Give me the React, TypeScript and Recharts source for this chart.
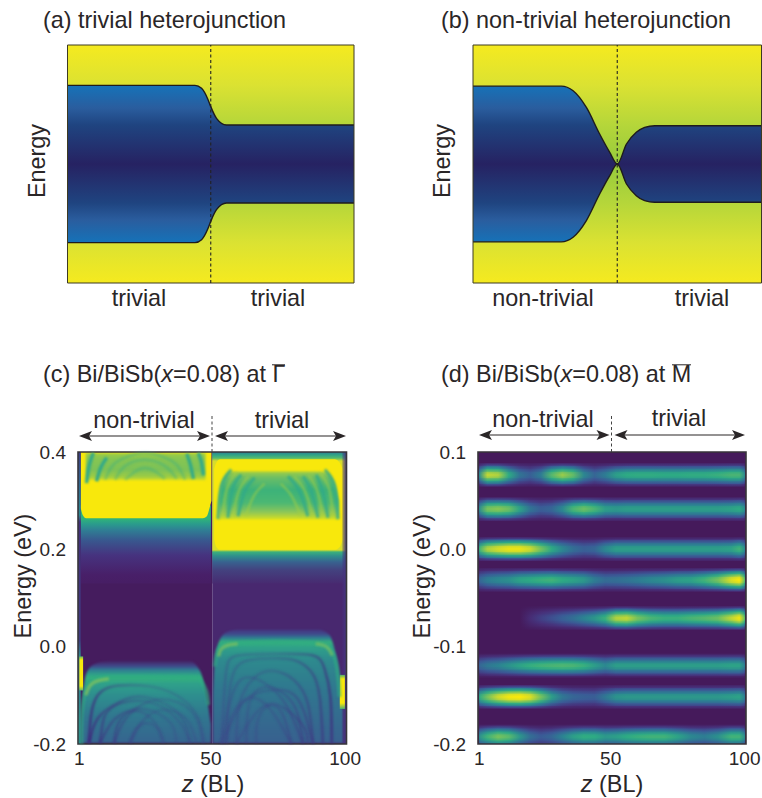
import { Area, ComposedChart, Line, ReferenceArea, ReferenceLine, XAxis, YAxis } from "recharts";

const INK = "#2a2627";
const FONT = '"Liberation Sans", Arial, sans-serif';

// panel (a), (b): gap edge as [z, upper], lower edge is its mirror
const EDGE_A = [[0, 0.661], [44.5, 0.661], [46.8, 0.636], [49.1, 0.538], [50, 0.482], [52, 0.384], [55.5, 0.328], [100, 0.328]];
const EDGE_B_LEFT = [[0, 0.654], [30.6, 0.654], [34.7, 0.615], [39.3, 0.475], [43.9, 0.252], [47.4, 0.098], [50, 0]];
const EDGE_B_RIGHT = [[50, 0], [53.2, 0.168], [56.6, 0.266], [59.5, 0.308], [63, 0.322], [100, 0.322]];

// panel (c): regions as [z, low, high] in eV
const C_LEFT_BG = [[0.5, -0.2, 0.4], [50.5, -0.2, 0.4]];
const C_RIGHT_BG = [[50.5, -0.2, 0.4], [100.5, -0.2, 0.4]];
const C_LEFT_HALO = [[1.5, 0.13, 0.29], [50, 0.13, 0.29]];
const C_LEFT_YELLOW = [[1.5, 0.285, 0.4], [2.3, 0.27, 0.4], [3.5, 0.264, 0.4], [47, 0.264, 0.4], [48.5, 0.268, 0.4], [49.5, 0.285, 0.4], [50.2, 0.3, 0.4]];
const C_LEFT_MOUND = [[3.4, 0.342, 0.398], [48, 0.342, 0.398]];
const C_LEFT_FLOOR = [[1.5, -0.198, -0.17], [2.5, -0.198, -0.09], [4, -0.198, -0.05], [7, -0.198, -0.035], [12, -0.198, -0.03], [42, -0.198, -0.03], [46, -0.198, -0.05], [48, -0.198, -0.09], [50, -0.198, -0.16]];
const C_RIGHT_HALO = [[50.5, 0.13, 0.4], [100.5, 0.13, 0.4]];
const C_RIGHT_YELLOW = [[51.2, 0.22, 0.365], [52, 0.205, 0.378], [53.5, 0.199, 0.385], [96, 0.199, 0.385], [98, 0.205, 0.378], [99.1, 0.22, 0.365]];
const C_RIGHT_MOUND = [[53, 0.262, 0.3], [54, 0.262, 0.335], [57.5, 0.262, 0.36], [89, 0.262, 0.36], [93, 0.262, 0.358], [96, 0.262, 0.335], [97.6, 0.262, 0.3]];
const C_RIGHT_FLOOR = [[50.8, -0.198, -0.1], [51.5, -0.198, -0.03], [53, -0.198, 0.01], [56, -0.198, 0.03], [60, -0.198, 0.035], [90, -0.198, 0.035], [94, -0.198, 0.025], [96.5, -0.198, -0.015], [98, -0.198, -0.06], [99.3, -0.198, -0.13]];
const C_LEFT_SPOT = [[1, -0.09, -0.02], [2.4, -0.09, -0.02]];
const C_RIGHT_SPOT = [[98, -0.128, -0.058], [99.9, -0.128, -0.058]];
const C_LEFT_COLUMN = [[0.5, -0.2, 0.4], [1.5, -0.2, 0.4]];
const C_RIGHT_FADE = [[98.6, -0.2, 0.4], [100.5, -0.2, 0.4]];

// panel (c): ridges and fringes as [z, E]
const RIDGE_LEFT = [[1.8, -0.2], [1.9, -0.14], [2.8, -0.1], [4, -0.082], [7, -0.068], [12, -0.062], [25, -0.062], [42, -0.063], [46, -0.068], [48.2, -0.09], [49, -0.12]];
const RIDGE_LEFT_HOT = [[3.4, -0.1], [5, -0.08], [8, -0.07], [12, -0.066]];
const RIDGE_RIGHT = [[51.4, -0.041], [52.6, -0.007], [56.3, 0.006], [63.8, 0.008], [73.7, 0.01], [86.1, 0.008], [92.4, 0.003], [95.5, -0.014], [97.1, -0.048], [97.9, -0.103]];
const RIDGE_RIGHT_HOT = [[52.9, -0.02], [54, -0.004], [57, 0.004], [60, 0.006]];
const RIDGE_RIGHT_HOT2 = [[89, 0.006], [93, 0], [95.2, -0.018]];

const ARCS_LEFT_TOP = [
  [[3.7, 0.336], [4.6, 0.37], [6.2, 0.398]],
  [[7.4, 0.34], [9, 0.368], [11.2, 0.388]],
  [[47.2, 0.352], [46.4, 0.38], [45.3, 0.398]],
  [[43.5, 0.345], [42.3, 0.375], [41, 0.396]],
];
const ARCS_LEFT_TOP_SOFT = [
  [[10.6, 0.343], [13.7, 0.374], [19.2, 0.391], [25.4, 0.398], [31.7, 0.391], [37.2, 0.374], [40.4, 0.343]],
  [[14.3, 0.343], [18, 0.371], [25.4, 0.384], [32.9, 0.371], [37.2, 0.345]],
  [[18, 0.343], [25.4, 0.367], [32.9, 0.345]],
];
const ARCS_RIGHT_TOP = [
  [[97.3, 0.262], [96.1, 0.331], [92.4, 0.364]],
  [[93.6, 0.265], [91.7, 0.319], [89.2, 0.353]],
  [[89.9, 0.265], [87.4, 0.319], [84.3, 0.35]],
  [[86.1, 0.268], [83, 0.319], [78.7, 0.35]],
  [[52.6, 0.262], [53.9, 0.331], [57.6, 0.364]],
  [[56.3, 0.265], [58.2, 0.326], [61.3, 0.353]],
  [[60.1, 0.268], [62.6, 0.319], [66.3, 0.347]],
];
const ARCS_RIGHT_TOP_LIGHT = [
  [[95.4, 0.268], [94, 0.325], [90.5, 0.358]],
  [[91.7, 0.268], [89.6, 0.32], [86.5, 0.352]],
  [[87.9, 0.268], [85, 0.32], [81, 0.35]],
  [[83.5, 0.268], [80, 0.31], [76, 0.335]],
  [[54.5, 0.268], [56, 0.325], [59.5, 0.358]],
  [[58.2, 0.268], [60.4, 0.32], [64, 0.35]],
  [[63, 0.268], [66, 0.31], [70, 0.335]],
];
const ARCS_LEFT_BOTTOM = [
  [[4.6, -0.198], [5.3, -0.144], [7.5, -0.103], [12.4, -0.083], [20.5, -0.079], [31.7, -0.087], [41.6, -0.118], [46, -0.159], [47.2, -0.198]],
  [[8.7, -0.198], [10, -0.15], [13, -0.125], [20.5, -0.104], [30.4, -0.111], [39.1, -0.145], [42.2, -0.198]],
  [[14, -0.198], [15.5, -0.157], [21.1, -0.13], [28.6, -0.133], [35.4, -0.16], [37.2, -0.198]],
  [[19.9, -0.198], [22.4, -0.167], [27.3, -0.158], [31, -0.174], [32.3, -0.198]],
  [[14, -0.198], [18, -0.15], [27, -0.113], [38, -0.115], [45, -0.15], [47.2, -0.198]],
  [[4.6, -0.198], [9, -0.14], [20, -0.112], [31, -0.122], [39, -0.16], [42.2, -0.198]],
  [[19.9, -0.198], [25, -0.15], [33, -0.13], [41, -0.15], [44.5, -0.198]],
  [[8.7, -0.198], [14, -0.15], [22, -0.132], [29, -0.155], [32.3, -0.198]],
];
const ARCS_RIGHT_BOTTOM = [
  [[95, -0.199], [94.5, -0.103], [92.3, -0.045], [88, -0.018], [75, -0.015], [60, -0.018], [55.5, -0.06], [54, -0.199]],
  [[91.7, -0.199], [90.5, -0.103], [87.4, -0.052], [81.2, -0.028], [73.7, -0.024], [63.8, -0.028], [57.6, -0.069], [55.7, -0.199]],
  [[88, -0.199], [86.1, -0.117], [81.2, -0.07], [73.7, -0.05], [66.3, -0.063], [60.7, -0.117], [59.5, -0.199]],
  [[84.3, -0.199], [81.8, -0.13], [76.2, -0.093], [70, -0.083], [64.4, -0.114], [63.2, -0.199]],
  [[79.9, -0.199], [76.8, -0.14], [71.9, -0.12], [67.5, -0.15], [66.9, -0.199]],
  [[84.3, -0.199], [78, -0.12], [70, -0.075], [60, -0.075], [54, -0.199]],
  [[79.9, -0.199], [73, -0.135], [65, -0.105], [58, -0.14], [55.7, -0.199]],
  [[54, -0.199], [62, -0.115], [72, -0.09], [82, -0.105], [88, -0.199]],
  [[59.5, -0.199], [67, -0.135], [75, -0.12], [84, -0.16], [86, -0.199]],
];

// panel (d): bands. Brightness (0..1) along z at KNOTS, one row per band
const KNOTS = [1, 4, 8, 12, 16, 20, 24, 28, 32, 36, 40, 44, 48, 52, 56, 60, 65, 70, 75, 80, 85, 90, 95, 98, 100];
const BAND_ENERGY = [0.0764, 0.0414, 0.0003, -0.0315, -0.0708, -0.1195, -0.1517, -0.1925];
const BAND_1 = [0.45, 0.85, 0.82, 0.55, 0.35, 0.28, 0.38, 0.65, 0.78, 0.68, 0.42, 0.3, 0.38, 0.5, 0.55, 0.56, 0.56, 0.55, 0.55, 0.56, 0.56, 0.58, 0.62, 0.62, 0.45];
const BAND_2 = [0.45, 0.72, 0.75, 0.7, 0.52, 0.35, 0.27, 0.3, 0.42, 0.62, 0.7, 0.62, 0.5, 0.48, 0.5, 0.5, 0.5, 0.5, 0.5, 0.5, 0.5, 0.5, 0.52, 0.55, 0.45];
const BAND_3 = [0.6, 0.82, 0.9, 0.96, 0.96, 0.88, 0.72, 0.55, 0.42, 0.33, 0.28, 0.3, 0.42, 0.5, 0.5, 0.5, 0.5, 0.5, 0.5, 0.5, 0.5, 0.5, 0.52, 0.6, 0.45];
const BAND_4 = [0.3, 0.38, 0.42, 0.45, 0.52, 0.55, 0.58, 0.6, 0.55, 0.52, 0.48, 0.38, 0.32, 0.33, 0.35, 0.38, 0.42, 0.45, 0.5, 0.52, 0.6, 0.72, 0.92, 1, 0.7];
const BAND_5 = [0, 0, 0, 0, 0, 0.1, 0.17, 0.22, 0.28, 0.33, 0.4, 0.47, 0.58, 0.82, 0.85, 0.72, 0.62, 0.58, 0.58, 0.62, 0.65, 0.7, 0.85, 0.97, 0.7];
const BAND_6 = [0.3, 0.36, 0.4, 0.46, 0.52, 0.57, 0.6, 0.62, 0.63, 0.62, 0.58, 0.5, 0.42, 0.5, 0.5, 0.5, 0.5, 0.5, 0.5, 0.5, 0.5, 0.5, 0.52, 0.52, 0.4];
const BAND_7 = [0.55, 0.72, 0.88, 0.98, 1, 0.92, 0.72, 0.5, 0.36, 0.3, 0.28, 0.27, 0.36, 0.46, 0.48, 0.48, 0.48, 0.48, 0.48, 0.48, 0.48, 0.48, 0.5, 0.52, 0.4];
const BAND_8 = [0.45, 0.6, 0.72, 0.66, 0.48, 0.33, 0.26, 0.3, 0.4, 0.5, 0.56, 0.55, 0.48, 0.5, 0.55, 0.58, 0.6, 0.6, 0.52, 0.42, 0.38, 0.45, 0.6, 0.6, 0.45];
const BANDS = [BAND_1, BAND_2, BAND_3, BAND_4, BAND_5, BAND_6, BAND_7, BAND_8];
// cross-section of a band, outer to inner: half height in eV and relative brightness
const LEVEL_HALF = [0.0122, 0.0107, 0.0092, 0.0077, 0.0061, 0.0046, 0.0031, 0.0015];
const LEVEL_GAIN = [0.12, 0.26, 0.42, 0.57, 0.7, 0.83, 0.94, 1];

const C_TICKS = [-0.2, 0, 0.2, 0.4];
const D_TICKS = [-0.2, -0.1, 0, 0.1];
const Z_TICKS = [1, 50, 100];

const CMAP = [
  [0, [69, 26, 91]],
  [0.12, [71, 48, 122]],
  [0.25, [59, 88, 150]],
  [0.4, [44, 130, 146]],
  [0.55, [45, 170, 132]],
  [0.7, [105, 190, 100]],
  [0.85, [190, 214, 55]],
  [1, [248, 232, 12]],
] as const;

function cmap(v: number) {
  for (let i = 1; i < CMAP.length; i++) {
    const [b, cb] = CMAP[i];
    if (v <= b) {
      const [a, ca] = CMAP[i - 1];
      const t = (v - a) / (b - a);
      const c = ca.map((x, k) => Math.round(x + (cb[k] - x) * t));
      return `rgb(${c[0]},${c[1]},${c[2]})`;
    }
  }
  return "#f8e80c";
}

const VSize = { width: 762, height: 798 };

// vertical gradient given in page pixels; charts sit at the page origin
function VGrad({ id, stops }: { id: string; stops: [number, string][] }) {
  const y0 = stops[0][0];
  const y1 = stops[stops.length - 1][0];
  return (
    <linearGradient id={id} gradientUnits="userSpaceOnUse" x1="0" x2="0" y1={y0} y2={y1}>
      {stops.map(([y, c]) => (
        <stop key={y} offset={(y - y0) / (y1 - y0)} stopColor={c} />
      ))}
    </linearGradient>
  );
}

function region(key: string, pts: number[][], fill: string, curve: any = "monotone", className?: string) {
  return (
    <Area
      key={key}
      className={className}
      data={pts.map(([z, lo, hi]) => ({ z, r: [lo, hi] }))}
      dataKey="r"
      type={curve}
      fill={fill}
      fillOpacity={1}
      stroke="none"
      dot={false}
      activeDot={false}
      isAnimationActive={false}
    />
  );
}

function curve(key: string, pts: number[][], stroke: string, width: number, opacity = 1) {
  return (
    <Line
      key={key}
      data={pts.map(([z, e]) => ({ z, e }))}
      dataKey="e"
      type="natural"
      stroke={stroke}
      strokeWidth={width}
      strokeOpacity={opacity}
      strokeLinecap="butt"
      dot={false}
      activeDot={false}
      isAnimationActive={false}
    />
  );
}

const axisTick = { fontSize: 19, fill: INK, fontFamily: FONT };

function Txt({ x, y, size = 23.4, rotate, align = "center", children }: any) {
  const tx = align === "center" ? "-50%" : "0";
  return (
    <div
      style={{
        position: "absolute",
        left: x,
        top: y,
        fontFamily: FONT,
        fontSize: size,
        color: INK,
        lineHeight: 1,
        whiteSpace: "nowrap",
        transform: `translate(${tx},-50%)${rotate ? ` rotate(${rotate}deg)` : ""}`,
      }}
    >
      {children}
    </div>
  );
}

function Schematic({ id, left, right, edges }: { id: string; left: number; right: number; edges: number[][] }) {
  const top = [...edges].map(([z, e]) => ({ z, r: [-e, e] }));
  return (
    <div style={{ position: "absolute", left: 0, top: 0 }}>
      <ComposedChart {...VSize} data={top} margin={{ top: 45, left, right: 762 - right, bottom: 798 - 283 }}>
        <defs>
          <VGrad id={`${id}-y`} stops={[[45, "#f5ea1f"], [85, "#dbe232"], [125, "#b5d63a"], [164, "#96ca3c"], [203, "#b5d63a"], [243, "#dbe232"], [283, "#f5ea1f"]]} />
          <VGrad id={`${id}-b`} stops={[[86, "#1672b8"], [108, "#2a5d9e"], [125, "#1f4480"], [164, "#262262"], [203, "#1f4480"], [220, "#2a5d9e"], [242, "#1672b8"]]} />
        </defs>
        <XAxis dataKey="z" type="number" domain={[0, 100]} hide />
        <YAxis type="number" domain={[-1, 1]} hide />
        {region(`${id}-bg`, [[0, -1, 1], [100, -1, 1]], `url(#${id}-y)`, "linear")}
        <Area dataKey="r" type="monotone" fill={`url(#${id}-b)`} fillOpacity={1} stroke="#1f1b1c" strokeWidth={1.4} dot={false} activeDot={false} isAnimationActive={false} />
        <ReferenceLine x={50} stroke="#222" strokeWidth={1.1} strokeDasharray="3 2.5" />
        <ReferenceArea x1={0} x2={100} y1={-1} y2={1} fill="none" stroke="#3d3a22" strokeWidth={1} />
      </ComposedChart>
    </div>
  );
}

function GammaChart() {
  return (
    <div style={{ position: "absolute", left: 0, top: 0 }} className="soft-lines">
      <ComposedChart {...VSize} margin={{ top: 452, left: 38, right: 415.5, bottom: 28 }}>
        <defs>
          <VGrad id="c-halo-l" stops={[[505, "#2fb27a"], [519, "#2fb27a"], [524, "#2a9c8c"], [530, "#2f7f94"], [540, "#38598f"], [555, "#46337f"], [575, "#481f68"], [600, "#451c5e"]]} />
          <VGrad id="c-mound-l" stops={[[452, "#a8d03d"], [458, "#88c652"], [470, "#7cc258"], [477, "#a0cd42"], [481, "#e2e01f"]]} />
          <VGrad id="c-floor-l" stops={[[650, "#451c5e"], [660, "#45205f"], [666, "#41478a"], [670, "#2f7f92"], [675, "#2fa487"], [678, "#34b07e"], [684, "#2fa08a"], [695, "#2e8f8e"], [715, "#30788f"], [744, "#36648f"]]} />
          <VGrad id="c-halo-r" stops={[[452, "#2f7f92"], [455, "#2fa487"], [458, "#54b96e"], [461, "#d8dd2a"], [550, "#d8dd2a"], [552, "#3bb07c"], [556, "#2f8f8c"], [562, "#38628f"], [570, "#43427f"], [585, "#48286f"]]} />
          <VGrad id="c-mound-r" stops={[[471, "#a4ce42"], [478, "#6abe66"], [490, "#3cb27a"], [503, "#4cb873"], [512, "#8cc659"], [518, "#c8da2c"]]} />
          <VGrad id="c-floor-r" stops={[[618, "#48286f"], [628, "#46317c"], [634, "#40498c"], [638, "#2f7f92"], [642, "#34b07e"], [648, "#2fa08a"], [660, "#2e8a8e"], [690, "#30778f"], [744, "#38608f"]]} />
          <VGrad id="c-col" stops={[[452, "#3c3f86"], [490, "#2f6f92"], [515, "#2a8a92"], [522, "#43307a"], [640, "#3f3a80"], [656, "#2f8a90"], [744, "#2f7f90"]]} />
          <VGrad id="c-spot-l" stops={[[655, "#2fa487"], [660, "#f8e80c"], [686, "#f8e80c"], [692, "#2fa487"]]} />
          <VGrad id="c-spot-r" stops={[[674, "#2fa487"], [679, "#f8e80c"], [703, "#f8e80c"], [710, "#2fa487"]]} />
          <linearGradient id="c-fade" x1="0" x2="1" y1="0" y2="0">
            <stop offset="0" stopColor="#46327f" stopOpacity={0} />
            <stop offset="0.45" stopColor="#46327f" stopOpacity={0.55} />
            <stop offset="1" stopColor="#463a84" stopOpacity={0.95} />
          </linearGradient>
          <linearGradient id="c-arc-l" gradientUnits="userSpaceOnUse" x1="80" x2="212" y1="0" y2="0">
            <stop offset="0" stopColor="#40207a" stopOpacity={0.85} />
            <stop offset="0.2" stopColor="#40307f" stopOpacity={0.42} />
            <stop offset="0.55" stopColor="#3f3f88" stopOpacity={0.22} />
            <stop offset="1" stopColor="#3f3f88" stopOpacity={0.22} />
          </linearGradient>
          <linearGradient id="c-arc-r" gradientUnits="userSpaceOnUse" x1="212" x2="346" y1="0" y2="0">
            <stop offset="0" stopColor="#3f3f88" stopOpacity={0.3} />
            <stop offset="0.45" stopColor="#3f3f88" stopOpacity={0.26} />
            <stop offset="0.8" stopColor="#40307f" stopOpacity={0.48} />
            <stop offset="1" stopColor="#40207a" stopOpacity={0.85} />
          </linearGradient>
        </defs>
        <XAxis dataKey="z" type="number" domain={[0.5, 100.5]} ticks={Z_TICKS} interval={0} tick={axisTick} tickLine={false} axisLine={false} tickMargin={2} height={26} />
        <YAxis type="number" domain={[-0.2, 0.4]} ticks={C_TICKS} interval={0} tick={axisTick} tickLine={false} axisLine={false} tickMargin={6} width={40} tickFormatter={(v: number) => v.toFixed(1)} />
        {region("l-bg", C_LEFT_BG, "#451c5e", "linear")}
        {region("r-bg", C_RIGHT_BG, "#48286f", "linear")}
        {region("l-halo", C_LEFT_HALO, "url(#c-halo-l)", "linear")}
        {region("l-yellow", C_LEFT_YELLOW, "#f8e80c")}
        {region("l-mound", C_LEFT_MOUND, "url(#c-mound-l)", "linear", "soft-area")}
        {ARCS_LEFT_TOP_SOFT.map((a, i) => curve(`lts${i}`, a, "#35ad86", 3, 0.35))}
        {ARCS_LEFT_TOP.map((a, i) => curve(`lt${i}`, a, "#2fa98a", 3.5, 0.95))}
        {region("l-floor", C_LEFT_FLOOR, "url(#c-floor-l)", "monotone", "soft-area")}
        {ARCS_LEFT_BOTTOM.map((a, i) => curve(`lb${i}`, a, "url(#c-arc-l)", 2.8))}
        {curve("l-ridge", RIDGE_LEFT, "#2fae82", 4, 0.6)}
        {curve("l-ridge-hot", RIDGE_LEFT_HOT, "#86c25c", 3.5, 0.7)}
        {region("r-halo", C_RIGHT_HALO, "url(#c-halo-r)", "linear")}
        {region("r-yellow", C_RIGHT_YELLOW, "#f8e80c")}
        {region("r-mound", C_RIGHT_MOUND, "url(#c-mound-r)", "monotone", "soft-area")}
        {ARCS_RIGHT_TOP_LIGHT.map((a, i) => curve(`rtl${i}`, a, "#a6cf40", 2.6, 0.5))}
        {ARCS_RIGHT_TOP.map((a, i) => curve(`rt${i}`, a, "#2fa98a", 3.2, 0.8))}
        {region("r-floor", C_RIGHT_FLOOR, "url(#c-floor-r)", "monotone", "soft-area")}
        {ARCS_RIGHT_BOTTOM.map((a, i) => curve(`rb${i}`, a, "url(#c-arc-r)", 2.8))}
        {curve("r-ridge", RIDGE_RIGHT, "#2fae82", 4, 0.6)}
        {curve("r-ridge-hot", RIDGE_RIGHT_HOT, "#86c25c", 3.5, 0.65)}
        {curve("r-ridge-hot2", RIDGE_RIGHT_HOT2, "#7cc060", 3.5, 0.65)}
        {region("r-fade", C_RIGHT_FADE, "url(#c-fade)", "linear")}
        {region("l-col", C_LEFT_COLUMN, "url(#c-col)", "linear")}
        {region("l-spot", C_LEFT_SPOT, "url(#c-spot-l)", "linear")}
        {region("r-spot", C_RIGHT_SPOT, "url(#c-spot-r)", "linear")}
        <ReferenceArea x1={0.5} x2={100.5} y1={-0.2} y2={0.4} fill="none" stroke="#37353a" strokeWidth={1.6} />
      </ComposedChart>
    </div>
  );
}

function MChart() {
  return (
    <div style={{ position: "absolute", left: 0, top: 0 }}>
      <ComposedChart {...VSize} margin={{ top: 452, left: 438, right: 16, bottom: 28 }}>
        <defs>
          {BANDS.map((amps, b) =>
            LEVEL_GAIN.map((gain, l) => (
              <linearGradient key={`${b}-${l}`} id={`m-${b}-${l}`} x1="0" x2="1" y1="0" y2="0">
                {amps.map((a, k) => (
                  <stop key={k} offset={(KNOTS[k] - 1) / 99} stopColor={cmap(a * gain)} />
                ))}
              </linearGradient>
            ))
          )}
        </defs>
        <XAxis dataKey="z" type="number" domain={[0.5, 100.5]} ticks={Z_TICKS} interval={0} tick={axisTick} tickLine={false} axisLine={false} tickMargin={2} height={26} />
        <YAxis type="number" domain={[-0.2, 0.1]} ticks={D_TICKS} interval={0} tick={axisTick} tickLine={false} axisLine={false} tickMargin={6} width={40} tickFormatter={(v: number) => v.toFixed(1)} />
        {region("m-bg", [[0.5, -0.2, 0.1], [100.5, -0.2, 0.1]], "#451a5b", "linear")}
        {BAND_ENERGY.map((e, b) =>
          LEVEL_HALF.map((h, l) =>
            region(`m${b}-${l}`, [[1, Math.max(e - h, -0.2), e + h], [100, Math.max(e - h, -0.2), e + h]], `url(#m-${b}-${l})`, "linear")
          )
        )}
        <ReferenceArea x1={0.5} x2={100.5} y1={-0.2} y2={0.1} fill="none" stroke="#37353a" strokeWidth={1.6} />
      </ComposedChart>
    </div>
  );
}

// double arrow and dashed divider above panels (c), (d)
function Arrows({ x0, mid, x1, y }: { x0: number; mid: number; x1: number; y: number }) {
  const head = (tip: number, dir: number) =>
    `M${tip},${y} L${tip + dir * 13},${y - 5} L${tip + dir * 10},${y} L${tip + dir * 13},${y + 5} Z`;
  return (
    <svg style={{ position: "absolute", left: 0, top: 0 }} width={762} height={798}>
      <line x1={mid} x2={mid} y1={416} y2={452} stroke="#444" strokeWidth={1} strokeDasharray="3 2.5" />
      {[[x0, mid - 2], [mid + 3, x1]].map(([a, b]) => (
        <g key={a}>
          <line x1={a + 6} x2={b - 6} y1={y} y2={y} stroke={INK} strokeWidth={1.2} />
          <path d={head(a, 1)} fill={INK} />
          <path d={head(b, -1)} fill={INK} />
        </g>
      ))}
    </svg>
  );
}

function Bar({ children }: any) {
  return <span style={{ display: "inline-block", borderTop: "1.4px solid " + INK, lineHeight: 0.82, marginTop: -2 }}>{children}</span>;
}

export default function App() {
  return (
    <div style={{ position: "absolute", left: 0, top: 0, width: 762, height: 798, overflow: "hidden", background: "#fff" }}>
      <style>{`.soft-lines .recharts-line { filter: blur(0.9px); } .soft-area { filter: blur(1.1px); }`}</style>
      <Schematic id="a" left={67.5} right={354} edges={EDGE_A} />
      <Schematic id="b" left={473} right={761.5} edges={[...EDGE_B_LEFT, ...EDGE_B_RIGHT.slice(1)]} />
      <GammaChart />
      <MChart />
      <Arrows x0={79} mid={212} x1={346} y={436} />
      <Arrows x0={479} mid={611.5} x1={745} y={435} />

      <Txt x={43} y={21} align="left">(a) trivial heterojunction</Txt>
      <Txt x={441} y={21} align="left">(b) non-trivial heterojunction</Txt>
      <Txt x={43} y={375} align="left">(c) Bi/BiSb(<i>x</i>=0.08) at <Bar>Γ</Bar></Txt>
      <Txt x={441} y={375} align="left">(d) Bi/BiSb(<i>x</i>=0.08) at <Bar>M</Bar></Txt>

      <Txt x={139} y={299}>trivial</Txt>
      <Txt x={278} y={299}>trivial</Txt>
      <Txt x={543} y={299}>non-trivial</Txt>
      <Txt x={702} y={299}>trivial</Txt>
      <Txt x={38} y={161} rotate={-90}>Energy</Txt>
      <Txt x={443} y={161} rotate={-90}>Energy</Txt>

      <Txt x={144} y={421}>non-trivial</Txt>
      <Txt x={282} y={421}>trivial</Txt>
      <Txt x={543} y={420}>non-trivial</Txt>
      <Txt x={679} y={419}>trivial</Txt>
      <Txt x={24} y={576} rotate={-90}>Energy (eV)</Txt>
      <Txt x={423} y={576} rotate={-90}>Energy (eV)</Txt>
      <Txt x={213} y={785}><i>z</i> (BL)</Txt>
      <Txt x={612} y={785}><i>z</i> (BL)</Txt>
    </div>
  );
}
